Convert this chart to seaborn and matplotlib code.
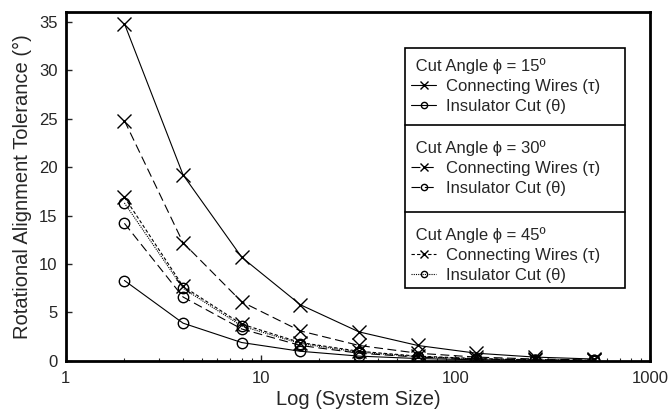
import matplotlib
matplotlib.use("Agg")
import matplotlib.pyplot as plt
import matplotlib.ticker as mticker
from matplotlib.legend import Legend
from matplotlib.patches import Rectangle
import seaborn as sns

# system sizes (x axis, log scale)
sizes = [2, 4, 8, 16, 32, 64, 128, 256, 512]

# rotational alignment tolerance (degrees)
wires_15 = [34.8, 19.2, 10.7, 5.8, 3.0, 1.6, 0.8, 0.4, 0.2]
insul_15 = [8.3, 3.9, 1.9, 1.0, 0.5, 0.25, 0.12, 0.06, 0.03]
wires_30 = [24.8, 12.2, 6.1, 3.1, 1.6, 0.8, 0.4, 0.2, 0.1]
insul_30 = [14.2, 6.6, 3.3, 1.6, 0.8, 0.4, 0.2, 0.1, 0.05]
wires_45 = [16.9, 7.7, 3.8, 1.9, 1.0, 0.5, 0.25, 0.12, 0.06]
insul_45 = [16.3, 7.5, 3.6, 1.8, 0.9, 0.45, 0.22, 0.11, 0.05]

angles = ["15", "30", "45"]
wire_label = "Connecting Wires (\u03c4)"
insul_label = "Insulator Cut (\u03b8)"

sns.set_style("ticks")
plt.rcParams["font.family"] = ["Liberation Sans", "DejaVu Sans"]

fig = plt.figure(figsize=(6.71, 4.13), dpi=100)
ax = fig.add_axes([0.098, 0.126, 0.871, 0.845])

wire_styles = {"15": "-", "30": (0, (8, 4)), "45": (0, (3, 2))}
insul_styles = {"15": "-", "30": (0, (8, 4)), "45": (0, (1, 1))}

series = [
    ("15", wires_15, insul_15),
    ("30", wires_30, insul_30),
    ("45", wires_45, insul_45),
]

for ang, w, ins in series:
    sns.lineplot(x=sizes, y=w, ax=ax, color="black", linewidth=0.8,
                 linestyle=wire_styles[ang], marker="x", markersize=10,
                 markeredgecolor="black", markeredgewidth=1.0,
                 label=wire_label)
    sns.lineplot(x=sizes, y=ins, ax=ax, color="black", linewidth=0.8,
                 linestyle=insul_styles[ang], marker="o", markersize=7.5,
                 markerfacecolor="none", markeredgecolor="black",
                 markeredgewidth=1.0, label=insul_label)

ax.set_xscale("log")
ax.set_xlim(1, 1000)
ax.set_ylim(0, 36)
ax.set_yticks(range(0, 36, 5))
ax.xaxis.set_major_formatter(mticker.FuncFormatter(lambda v, p: f"{v:g}"))
ax.xaxis.set_minor_formatter(mticker.NullFormatter())
ax.tick_params(which="both", direction="in", labelsize=12, top=False, right=False)
ax.tick_params(which="major", length=4, width=1)
ax.tick_params(which="minor", length=2.5, width=0.8)
ax.tick_params(axis="x", which="major", pad=7)
ax.tick_params(axis="y", which="major", pad=6)
for sp in ax.spines.values():
    sp.set_visible(True)
    sp.set_linewidth(2)
    sp.set_color("black")

ax.set_xlabel("Log (System Size)", fontsize=14.5, labelpad=3)
ax.set_ylabel("Rotational Alignment Tolerance (\u00b0)", fontsize=14.5, labelpad=5)

handles, labels = ax.get_legend_handles_labels()
ax.get_legend().remove()

# legend frame: one box split in three sections
box_x0, box_x1 = 0.580, 0.957
edges = [0.897, 0.676, 0.427, 0.209]
ax.add_patch(Rectangle((box_x0, edges[-1]), box_x1 - box_x0, edges[0] - edges[-1],
                       transform=ax.transAxes, facecolor="white",
                       edgecolor="black", linewidth=1.2, zorder=4))
for e in edges[1:3]:
    ax.plot([box_x0, box_x1], [e, e], transform=ax.transAxes,
            color="black", linewidth=1.2, zorder=4)

offsets = [0.009, 0.023, 0.023]
for i, ang in enumerate(angles):
    leg = Legend(ax, handles[2 * i:2 * i + 2], labels[2 * i:2 * i + 2],
                 title=f" Cut Angle \u03d5 = {ang}\u00ba",
                 loc="upper left",
                 bbox_to_anchor=(box_x0, edges[i] - offsets[i]),
                 bbox_transform=ax.transAxes,
                 borderaxespad=0, fontsize=12, title_fontsize=12,
                 alignment="left", frameon=False, markerscale=0.6,
                 handlelength=1.5, handletextpad=0.6, labelspacing=0.3,
                 borderpad=0.4)
    leg.set_zorder(5)
    ax.add_artist(leg)

fig.savefig("out.png", dpi=100)
